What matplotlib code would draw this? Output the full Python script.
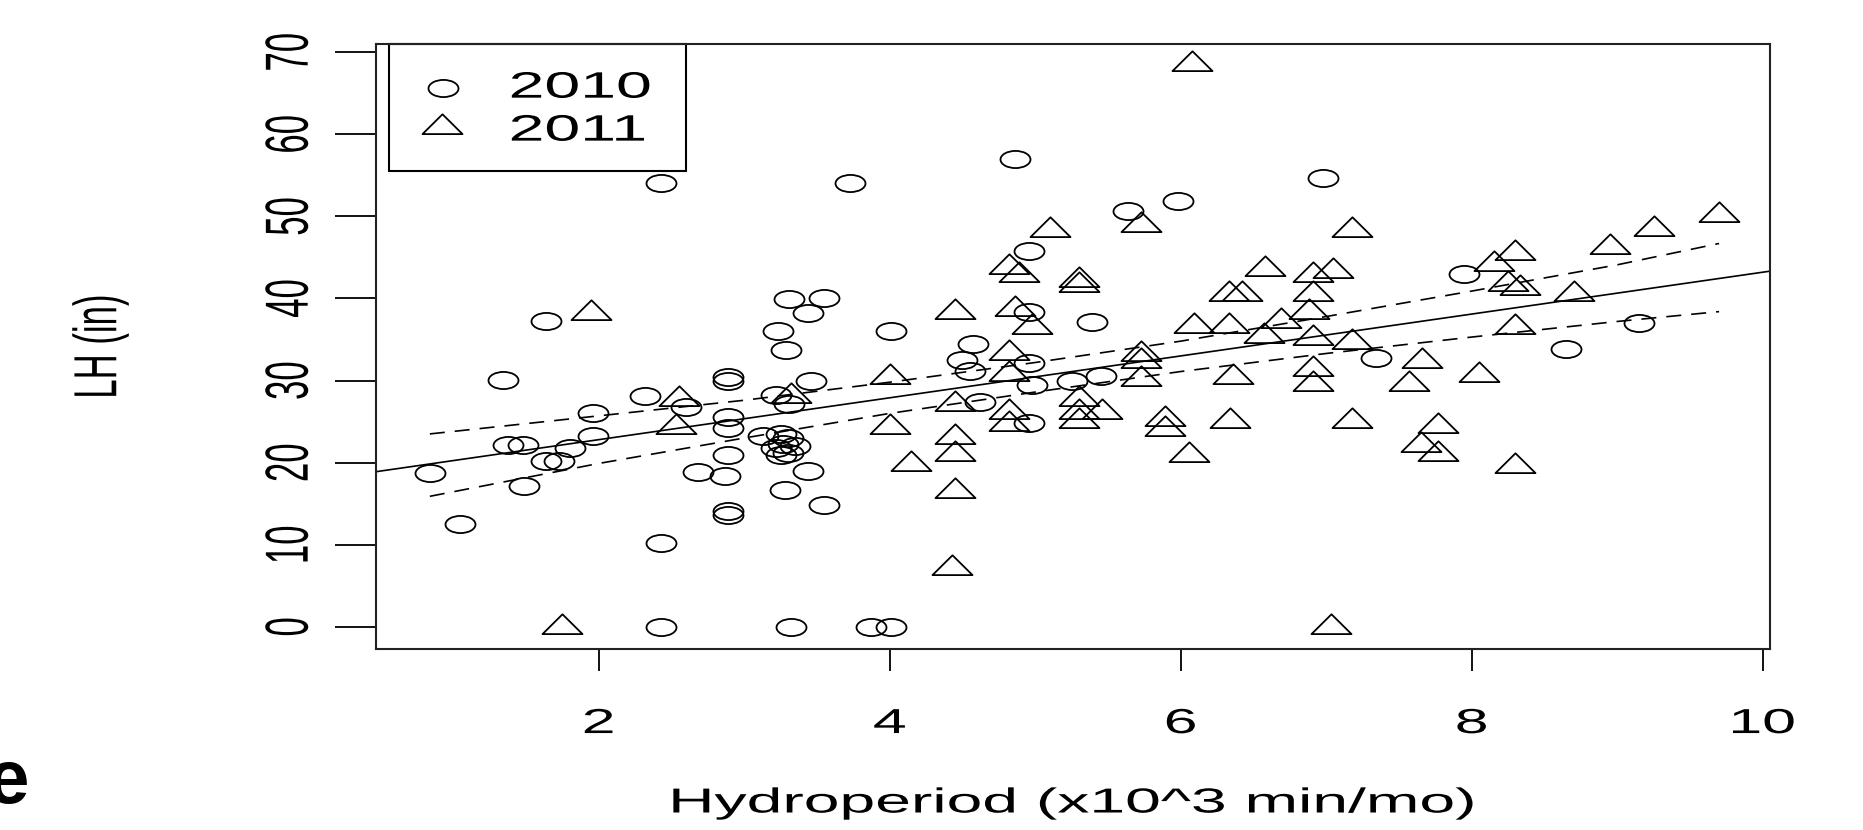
import numpy as np
import matplotlib
matplotlib.use("Agg")
import matplotlib.pyplot as plt
from matplotlib.path import Path
from matplotlib.patches import Rectangle
from matplotlib.patheffects import AbstractPathEffect
from matplotlib.transforms import Affine2D

# 2010 (circles)
x2010 = [0.84, 1.05, 1.34, 1.38, 1.48, 1.49, 1.64, 1.64, 1.73, 1.80, 1.96, 1.96,
         2.32, 2.43, 2.43, 2.43, 2.60, 2.68, 2.87, 2.89, 2.89, 2.89, 2.89, 2.89,
         2.89, 2.89, 3.13, 3.22, 3.23, 3.29, 3.31, 3.31, 3.25, 3.30, 3.27, 3.22,
         3.30, 3.25, 3.35, 3.28, 3.32, 3.44, 3.44, 3.46, 3.55, 3.55, 3.73, 3.87,
         4.01, 4.01, 4.50, 4.55, 4.57, 4.62, 4.86, 4.96, 4.96, 4.96, 4.96, 4.98,
         5.25, 5.39, 5.45, 5.64, 5.98, 6.98, 7.34, 7.95, 8.65, 9.15]
y2010 = [18.7, 12.5, 30.1, 22.1, 22.1, 17.2, 37.2, 20.2, 20.2, 21.8, 26.1, 23.3,
         28.1, 54.1, 10.2, 0.0, 26.8, 18.9, 18.4, 30.0, 30.4, 25.6, 24.2, 20.9,
         14.1, 13.6, 23.3, 28.2, 36.0, 33.7, 39.9, 27.2, 23.5, 23.0, 22.3, 21.8,
         21.2, 20.9, 22.0, 16.7, 0.0, 38.2, 19.0, 29.9, 40.1, 14.8, 54.1, 0.0,
         0.0, 36.0, 32.5, 31.2, 34.4, 27.4, 57.0, 45.8, 38.3, 32.1, 24.8, 29.5,
         29.9, 37.1, 30.6, 50.7, 51.9, 54.7, 32.8, 43.0, 33.9, 37.0]

# 2011 (triangles)
x2011 = [1.75, 1.95, 2.53, 2.55, 3.32, 4.00, 4.00, 4.15, 4.45, 4.45, 4.45, 4.45,
         4.45, 4.43, 4.82, 4.89, 4.86, 4.98, 4.82, 4.82, 4.82, 4.82, 5.10, 5.30,
         5.30, 5.30, 5.30, 5.30, 5.46, 5.73, 5.73, 5.73, 5.73, 5.89, 5.89, 6.08,
         6.09, 6.06, 6.33, 6.42, 6.33, 6.36, 6.34, 6.58, 6.57, 6.69, 6.88, 6.91,
         7.05, 6.91, 6.91, 6.91, 6.91, 7.03, 7.18, 7.18, 7.18, 7.57, 7.66, 7.65,
         7.77, 7.77, 8.05, 8.15, 8.30, 8.25, 8.33, 8.30, 8.30, 8.70, 8.95, 9.25,
         9.70]
y2011 = [0.0, 38.2, 24.4, 27.8, 28.1, 30.4, 24.3, 19.8, 38.4, 27.2, 23.1, 21.1,
         16.5, 7.2, 43.8, 42.9, 38.7, 36.5, 33.4, 30.8, 26.2, 24.7, 48.3, 42.2,
         41.6, 27.7, 26.2, 25.1, 26.2, 49.0, 33.2, 32.4, 30.2, 25.3, 24.1, 68.6,
         36.6, 20.9, 40.5, 40.5, 36.6, 30.4, 25.1, 43.6, 35.4, 37.2, 38.3, 42.8,
         43.4, 40.5, 35.2, 31.4, 29.6, 0.0, 48.4, 34.7, 25.1, 29.6, 32.4, 22.1,
         24.5, 21.1, 30.7, 44.2, 45.6, 41.8, 41.3, 36.5, 19.6, 40.5, 46.3, 48.5,
         50.2]

# fitted line and confidence band
fit_intercept = 17.7
fit_slope = 2.55
band_x = [0.84, 2.0, 3.0, 4.0, 5.0, 6.0, 7.0, 8.0, 9.0, 9.7]
band_hi = [23.5, 25.7, 27.6, 29.8, 32.2, 34.8, 37.8, 40.9, 44.1, 46.7]
band_lo = [15.9, 19.9, 23.0, 26.0, 28.6, 31.1, 33.3, 35.3, 37.2, 38.4]

xticks = [2, 4, 6, 8, 10]
yticks = [0, 10, 20, 30, 40, 50, 60, 70]
years = ["2010", "2011"]

SX = 1.75  # the original picture is stretched sideways


class Stretch(AbstractPathEffect):
    # stretch drawn text horizontally like the source image
    def __init__(self, sx=SX, anchor="center"):
        super().__init__()
        self.sx = sx
        self.anchor = anchor

    def draw_path(self, renderer, gc, tpath, affine, rgbFace=None):
        ext = tpath.get_extents(affine)
        if self.anchor == "left":
            cx = ext.x0
        elif self.anchor == "right":
            cx = ext.x1
        else:
            cx = 0.5 * (ext.x0 + ext.x1)
        aff = affine + Affine2D().translate(-cx, 0).scale(self.sx, 1).translate(cx, 0)
        renderer.draw_path(gc, tpath, aff, rgbFace)


# flattened markers (R pch 1 and pch 2, stretched)
circ = Path.unit_circle()
circle_mk = Path(circ.vertices * np.array([1.0, 1.0 / SX]), circ.codes)
tri_mk = Path([(0, 1.555), (1.347 * SX, -0.778), (-1.347 * SX, -0.778), (0, 1.555)],
              [Path.MOVETO, Path.LINETO, Path.LINETO, Path.CLOSEPOLY])

W, H = 1863, 830
fig = plt.figure(figsize=(W / 100, H / 100), dpi=100)
ax = fig.add_axes([376 / W, 1 - 649 / H, (1770 - 376) / W, (649 - 44) / H])

font = "Liberation Sans"
fs = 25

mk = dict(linestyle="none", markerfacecolor="none", markeredgecolor="black",
          markeredgewidth=1.3)
ax.plot(x2010, y2010, marker=circle_mk, markersize=21.6, **mk)
ax.plot(x2011, y2011, marker=tri_mk, markersize=28.8, **mk)

ax.axline((0, fit_intercept), slope=fit_slope, color="black", lw=1.2)
ax.plot(band_x, band_hi, color="black", lw=1.2, dashes=(9, 6))
ax.plot(band_x, band_lo, color="black", lw=1.2, dashes=(9, 6))

ax.set_xlim(0.47, 10.05)
ax.set_ylim(-2.7, 71.0)

for sp in ax.spines.values():
    sp.set_linewidth(1.5)
    sp.set_color("#222222")

ax.set_xticks(xticks)
ax.set_xticklabels([str(v) for v in xticks], fontfamily=font, fontsize=fs)
ax.set_yticks(yticks)
ax.set_yticklabels([str(v) for v in yticks], fontfamily=font, fontsize=fs,
                   rotation=90)
ax.tick_params(axis="x", direction="out", length=15.8, width=1.3, pad=26)
ax.tick_params(axis="y", direction="out", length=29.5, width=1.3, pad=33)
for lab in ax.get_xticklabels():
    lab.set_path_effects([Stretch()])
for lab in ax.get_yticklabels():
    lab.set_ha("center")
    lab.set_va("center")
    lab.set_path_effects([Stretch()])

ax.set_xlabel("Hydroperiod (x10^3 min/mo)", fontfamily=font, fontsize=fs,
              path_effects=[Stretch(sx=1.85)])
ax.xaxis.label.set_va("center")
ax.xaxis.set_label_coords(0.5, (649 - 803) / 605)
ax.set_ylabel("LH (in)", fontfamily=font, fontsize=fs, path_effects=[Stretch()])
ax.yaxis.label.set_va("center")
ax.yaxis.set_label_coords((100 - 376) / 1394, 0.5)

# legend box, top left
ax.add_patch(Rectangle((0.0093, 0.790), 0.2131, 0.210, transform=ax.transAxes,
                       fill=False, edgecolor="black", lw=1.5, clip_on=False))
ax.plot([0.048], [0.927], transform=ax.transAxes, marker=circle_mk,
        markersize=21.6, **mk)
ax.plot([0.047], [0.862], transform=ax.transAxes, marker=tri_mk,
        markersize=28.8, **mk)
for yy, lab in zip([0.927, 0.856], years):
    ax.text(0.0961, yy, lab, transform=ax.transAxes, fontfamily=font,
            fontsize=26.5, ha="left", va="center",
            path_effects=[Stretch(anchor="left")])

# piece of slide text at the lower left
fig.text(30 / W, 1 - 803 / H, "e", fontfamily=font, fontsize=55,
         fontweight="bold", ha="right", va="baseline")

fig.savefig("out.png", dpi=100)
